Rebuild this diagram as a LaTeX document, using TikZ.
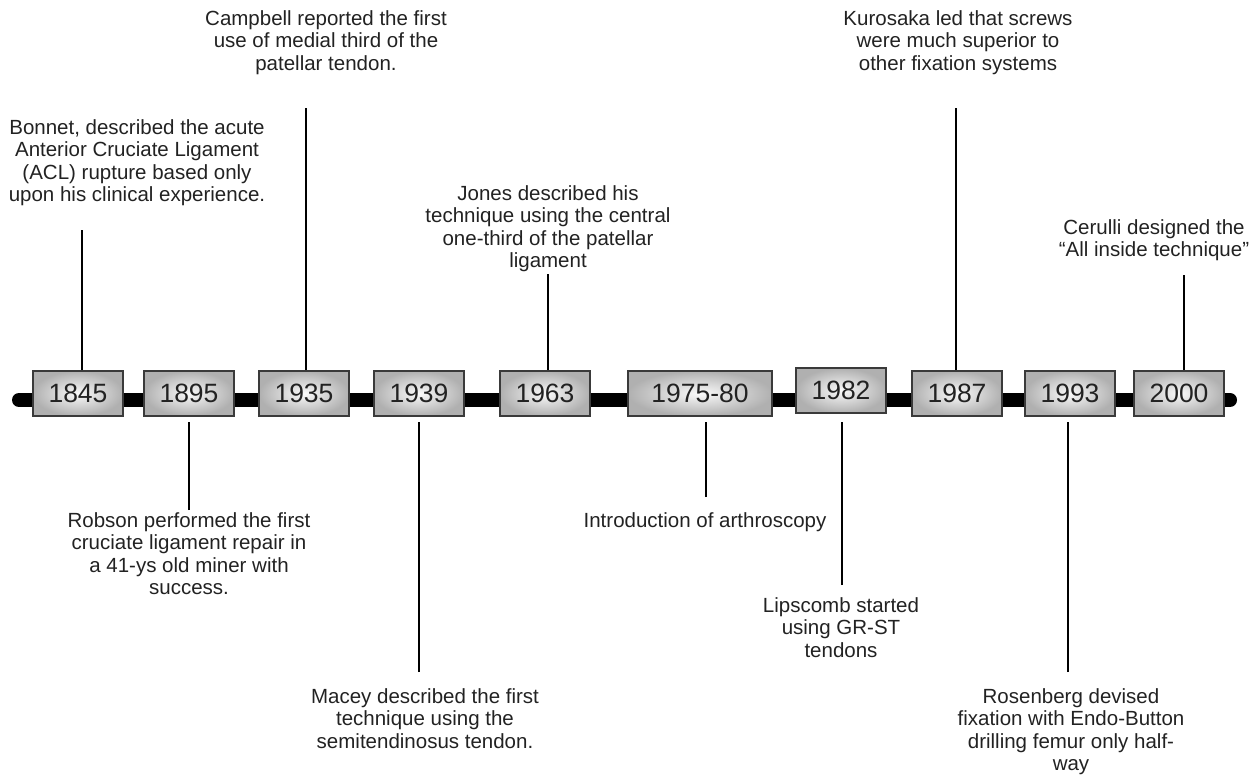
\documentclass[tikz,border=0pt]{standalone}
\usepackage{fontspec}
\setmainfont{Liberation Sans}
\definecolor{ink}{HTML}{222222}
\definecolor{rim}{HTML}{3A3A3A}
\definecolor{boxout}{HTML}{B0B0B0}
\definecolor{boxin}{HTML}{FAFAFA}

\begin{document}
\begin{tikzpicture}[x = 1pt, y = -1pt,
    year/.style = {draw = rim, line width = 1.3pt, shading = radial, inner color = boxin,
        outer color = boxout, minimum width = 90pt, minimum height = 45pt, inner sep = 0pt,
        text = ink, font = \fontsize{26.5}{28}\selectfont},
    note/.style = {align = center, anchor = north, inner sep = 0pt, text = ink,
        font = \fontsize{20.5}{22.5}\selectfont},
    stick/.style = {line width = 2.6pt}]
    \useasboundingbox (0,0) rectangle (1253,777);
        \coordinate (tl) at (19,400);
        \coordinate (tr) at (1230,400);
        \draw[line width = 14pt, line cap = round] (tl) -- (tr);
        \node[year] (y1845) at (78,393.5) {1845};
        \node[year] (y1895) at (189,393.5) {1895};
        \node[year] (y1935) at (304,393.5) {1935};
        \node[year] (y1939) at (419,393.5) {1939};
        \node[year] (y1963) at (545,393.5) {1963};
        \node[year, minimum width = 144pt] (y1975) at (700,393.5) {1975-80};
        \node[year] (y1982) at (841,390.5) {1982};
        \node[year] (y1987) at (957,393.5) {1987};
        \node[year] (y1993) at (1070,393.5) {1993};
        \node[year] (y2000) at (1179,393.5) {2000};
        \coordinate (t1845) at (82,230);
        \coordinate (t1935) at (306,108);
        \coordinate (t1963) at (548,274);
        \coordinate (t1987) at (956,108);
        \coordinate (t2000) at (1184,275);
        \coordinate (b1895) at (189,510);
        \coordinate (b1939) at (419,672);
        \coordinate (b1975) at (706,497);
        \coordinate (b1982) at (842,585);
        \coordinate (b1993) at (1068,672);
        \draw[stick] (t1845) -- (t1845 |- y1845.north);
        \draw[stick] (t1935) -- (t1935 |- y1935.north);
        \draw[stick] (t1963) -- (t1963 |- y1963.north);
        \draw[stick] (t1987) -- (t1987 |- y1987.north);
        \draw[stick] (t2000) -- (t2000 |- y2000.north);
        \draw[stick, shorten > = 5pt] (b1895) -- (b1895 |- y1895.south);
        \draw[stick, shorten > = 5pt] (b1939) -- (b1939 |- y1939.south);
        \draw[stick, shorten > = 5pt] (b1975) -- (b1975 |- y1975.south);
        \draw[stick, shorten > = 8pt] (b1982) -- (b1982 |- y1982.south);
        \draw[stick, shorten > = 5pt] (b1993) -- (b1993 |- y1993.south);
        \node[note] (bonnet) at (137,119) {Bonnet, described the acute\\Anterior Cruciate Ligament\\(ACL) rupture based only\\upon his clinical experience.};
        \node[note] (campbell) at (326,10) {Campbell reported the first\\use of medial third of the\\patellar tendon.};
        \node[note] (jones) at (548,185) {Jones described his\\technique using the central\\one-third of the patellar\\ligament};
        \node[note] (kurosaka) at (958,10) {Kurosaka led that screws\\were much superior to\\other fixation systems};
        \node[note] (cerulli) at (1154,219) {Cerulli designed the\\“All inside technique”};
        \node[note] (robson) at (189,512) {Robson performed the first\\cruciate ligament repair in\\a 41-ys old miner with\\success.};
        \node[note] (arthro) at (705,512) {Introduction of arthroscopy};
        \node[note] (lipscomb) at (841,597) {Lipscomb started\\using GR-ST\\tendons};
        \node[note] (macey) at (425,688) {Macey described the first\\technique using the\\semitendinosus tendon.};
        \node[note] (rosenberg) at (1071,688) {Rosenberg devised\\fixation with Endo-Button\\drilling femur only half-\\way};
\end{tikzpicture}
\end{document}
